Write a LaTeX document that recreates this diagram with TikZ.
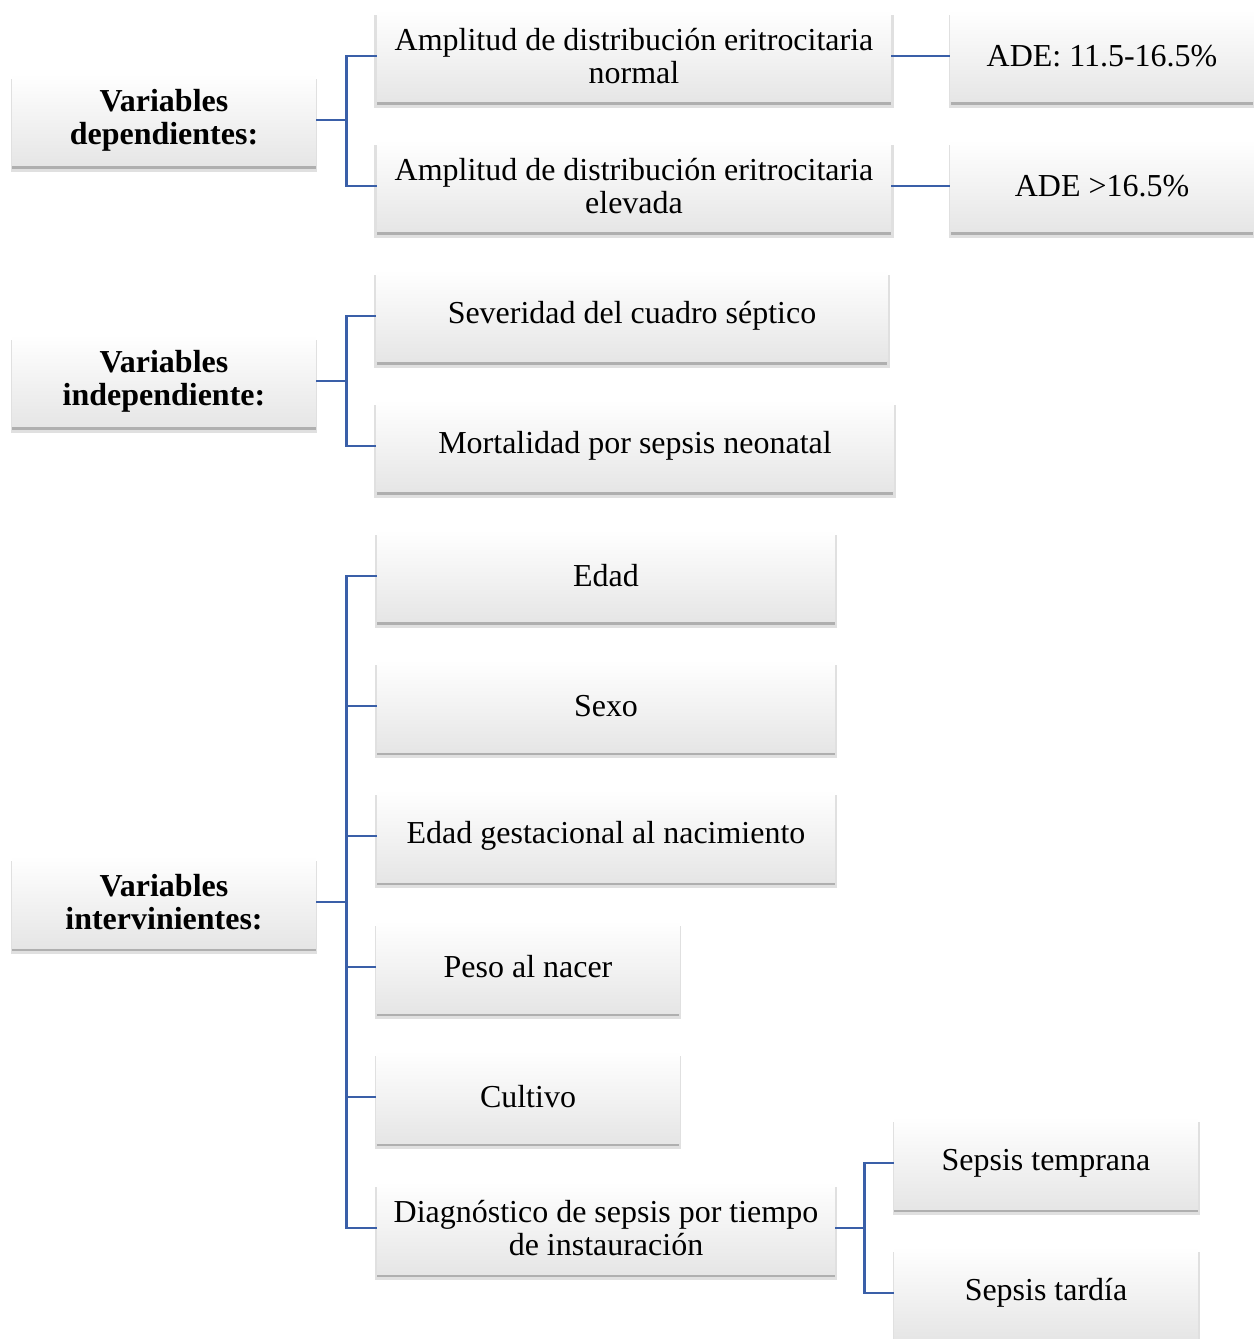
\documentclass[tikz,border=0pt]{standalone}
\usepackage{fontspec}
\setmainfont{Liberation Serif}
\usetikzlibrary{shadows}
\definecolor{linea}{HTML}{3A5FA8}
\begin{document}
\begin{tikzpicture}[x=0.02cm, y=-0.02cm, font=\fontsize{18.2}{19}\selectfont,
	caja/.style={minimum height=1.84cm, align=center, inner sep=2pt, top color=white, bottom color=black!10,
		drop shadow={shadow xshift=0pt, shadow yshift=-1.5pt, opacity=0.22, fill=black},
		drop shadow={shadow xshift=0pt, shadow yshift=-3pt, shadow scale=1.01, opacity=0.12, fill=black}},
	titulo/.style={caja, minimum width=6.08cm, font=\fontsize{18.2}{19}\selectfont\bfseries},
	enlace/.style={draw=linea, line width=1.4pt}]
	\useasboundingbox (0,0) rectangle (1254,1339);
	
	% Variables dependientes
	\node[titulo] (dep) at (164,120) {Variables\\dependientes:};
	\node[caja, minimum width=10.28cm] (ampn) at (634,56) {Amplitud de distribución eritrocitaria\\normal};
	\node[caja, minimum width=10.28cm] (ampe) at (634,186) {Amplitud de distribución eritrocitaria\\elevada};
	\node[caja, minimum width=6.06cm] (aden) at (1102,56) {ADE: 11.5-16.5\%};
	\node[caja, minimum width=6.06cm] (adee) at (1102,186) {ADE >16.5\%};
	\draw[enlace] (dep.east) -- ++(30,0) |- (ampn.west);
	\draw[enlace] (dep.east) -- ++(30,0) |- (ampe.west);
	\draw[enlace] (ampn.east) -- (aden.west);
	\draw[enlace] (ampe.east) -- (adee.west);
	
	% Variables independientes
	\node[titulo] (ind) at (164,381) {Variables\\independiente:};
	\node[caja, minimum width=10.22cm] (sev) at (632,316) {Severidad del cuadro séptico};
	\node[caja, minimum width=10.34cm] (mor) at (635,446) {Mortalidad por sepsis neonatal};
	\draw[enlace] (ind.east) -- ++(30,0) |- (sev.west);
	\draw[enlace] (ind.east) -- ++(30,0) |- (mor.west);
	
	% Variables intervinientes
	\node[titulo] (int) at (164,902) {Variables\\intervinientes:};
	\node[caja, minimum width=9.16cm] (edad) at (606,576) {Edad};
	\node[caja, minimum width=9.16cm] (sexo) at (606,706) {Sexo};
	\node[caja, minimum width=9.16cm] (gest) at (606,836) {Edad gestacional al nacimiento};
	\node[caja, minimum width=6.06cm] (peso) at (528,967) {Peso al nacer};
	\node[caja, minimum width=6.06cm] (cult) at (528,1097) {Cultivo};
	\node[caja, minimum width=9.16cm] (diag) at (606,1228) {Diagnóstico de sepsis por tiempo\\de instauración};
	\foreach \hijo in {edad, sexo, gest, peso, cult, diag}
		\draw[enlace] (int.east) -- ++(30,0) |- (\hijo.west);
	
	% Sepsis
	\node[caja, minimum width=6.08cm] (temp) at (1046,1163) {Sepsis temprana};
	\node[caja, minimum width=6.08cm] (tard) at (1046,1293) {Sepsis tardía};
	\draw[enlace] (diag.east) -- ++(29,0) |- (temp.west);
	\draw[enlace] (diag.east) -- ++(29,0) |- (tard.west);
	
\end{tikzpicture}
\end{document}
